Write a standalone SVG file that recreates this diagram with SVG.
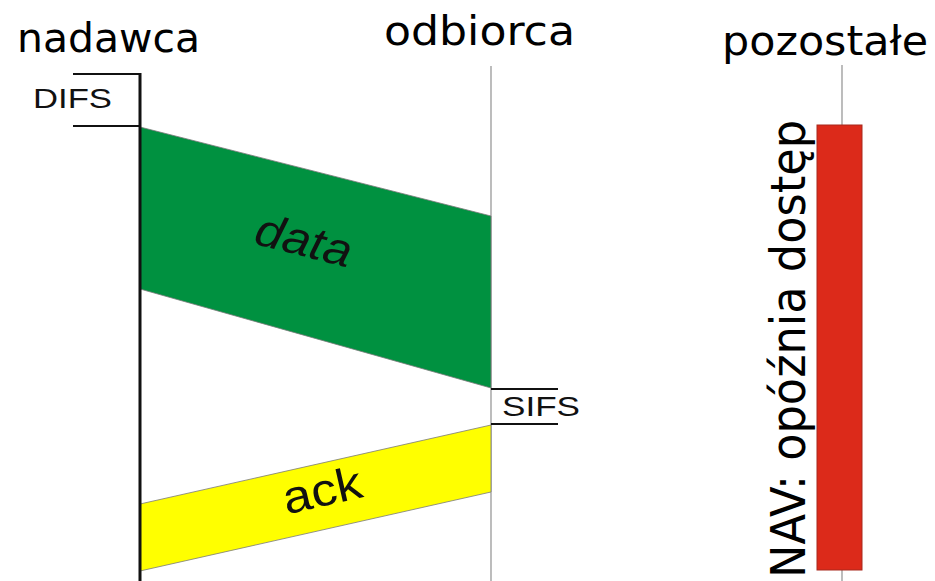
<svg xmlns="http://www.w3.org/2000/svg" width="935" height="581" viewBox="0 0 935 581">
<style>
.head{font-family:"DejaVu Sans",sans-serif;font-size:40px;fill:#000}
.lbl{font-family:"Liberation Sans",Arial,sans-serif;font-size:28px;fill:#111}
.big{font-family:"Liberation Sans",Arial,sans-serif;font-size:46px;fill:#111}
.tl{stroke:#999;stroke-width:1.3;fill:none}
.bk{stroke:#111;stroke-width:2;fill:none}
</style>
<rect width="935" height="581" fill="#fff"/>
<g id="nadawca">
<text class="head" x="17" y="52" textLength="183" lengthAdjust="spacingAndGlyphs">nadawca</text>
</g>
<g id="odbiorca">
<text class="head" x="384" y="45" textLength="191" lengthAdjust="spacingAndGlyphs">odbiorca</text>
</g>
<g id="pozostale">
<text class="head" x="722" y="55" textLength="206" lengthAdjust="spacingAndGlyphs">pozostałe</text>
</g>
<g id="timelines">
<line x1="491" y1="66" x2="491" y2="581" class="tl"/>
<line x1="842" y1="65" x2="842" y2="581" class="tl"/>
</g>
<g id="data">
<polygon points="140,127 491,216 491,388 140,289" fill="#009140" stroke="#7a7a7a" stroke-width="0.8"/>
<text class="big" font-style="italic" x="304" y="256" text-anchor="middle" transform="rotate(14.2 304 240)" textLength="98" lengthAdjust="spacingAndGlyphs">data</text>
</g>
<g id="ack">
<polygon points="140,504 491,425 491,492 140,571" fill="#ffff00" stroke="#7a7a7a" stroke-width="0.8"/>
<text class="big" x="322" y="506" text-anchor="middle" transform="rotate(-12.8 322 490)" textLength="80" lengthAdjust="spacingAndGlyphs">ack</text>
</g>
<g id="sender-line">
<line x1="140" y1="73" x2="140" y2="581" stroke="#111" stroke-width="3"/>
</g>
<g id="difs">
<line x1="73" y1="74" x2="141" y2="74" class="bk"/>
<line x1="73" y1="126" x2="141" y2="126" class="bk"/>
<text class="lbl" x="33" y="108" textLength="79" lengthAdjust="spacingAndGlyphs">DIFS</text>
</g>
<g id="sifs">
<line x1="491" y1="389" x2="558" y2="389" class="bk"/>
<line x1="491" y1="424" x2="558" y2="424" class="bk"/>
<text class="lbl" x="502" y="416" textLength="78" lengthAdjust="spacingAndGlyphs">SIFS</text>
</g>
<g id="nav">
<rect x="817" y="125" width="45" height="445" fill="#dc2a1a" stroke="#a8281c" stroke-width="1"/>
<text font-family="DejaVu Sans,sans-serif" font-size="48" fill="#000" x="-578" y="805" transform="rotate(-90)" textLength="458" lengthAdjust="spacingAndGlyphs">NAV: opóźnia dostęp</text>
</g>
</svg>
